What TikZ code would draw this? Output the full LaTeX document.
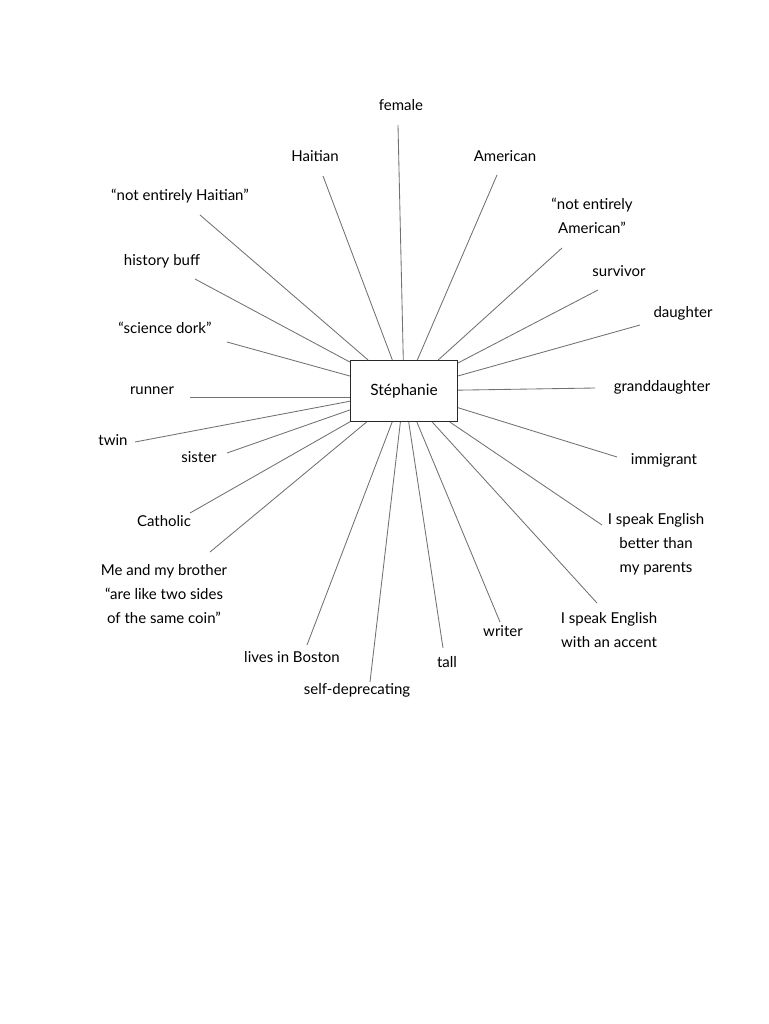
\documentclass[tikz,border=0pt]{standalone}
\usepackage{fontspec}
\setmainfont{Lato}
\usepackage{tikz}
\usetikzlibrary{positioning}
\definecolor{spokegray}{RGB}{112,114,110}
\definecolor{boxdark}{RGB}{40,40,40}

\begin{document}
\begin{tikzpicture}[
    x=1pt, y=-1pt,
    self/.style={rectangle, draw=boxdark, line width=1.1pt, fill=white,
                 minimum width=107pt, minimum height=61pt, font=\fontsize{15.5}{17}\selectfont},
    trait/.style={align=center, inner sep=1pt, font=\fontsize{15}{24}\selectfont},
    spoke/.style={draw=spokegray, line width=0.85pt},
]
    \useasboundingbox (0,0) rectangle (768,1024);

    % centre
    \node[self] (steph) at (404,391) {Stéphanie};

    % labels
    \node[trait] (female)   at (401,105) {female};
    \node[trait] (haitian)  at (315,156) {Haitian};
    \node[trait] (american) at (505,156) {American};
    \node[trait] (notht)    at (180,196) {``not entirely Haitian''};
    \node[trait] (history)  at (162,261) {history buff};
    \node[trait] (dork)     at (165,328) {``science dork''};
    \node[trait] (notam)    at (592,216) {``not entirely\\American''};
    \node[trait] (survivor) at (619,271) {survivor};
    \node[trait] (daughter) at (683,313) {daughter};
    \node[trait] (grand)    at (662,387) {granddaughter};
    \node[trait] (immig)    at (664,460) {immigrant};
    \node[trait] (better)   at (656,544) {I speak English\\better than\\my parents};
    \node[trait] (accent)   at (609,630) {I speak English\\with an accent};
    \node[trait] (writer)   at (503,631) {writer};
    \node[trait] (tall)     at (447,662) {tall};
    \node[trait] (selfdep)  at (357,690) {self-deprecating};
    \node[trait] (boston)   at (292,657) {lives in Boston};
    \node[trait] (brother)  at (164,594) {Me and my brother\\``are like two sides\\of the same coin''};
    \node[trait] (catholic) at (164,521) {Catholic};
    \node[trait] (sister)   at (199,457) {sister};
    \node[trait] (twin)     at (113,440) {twin};
    \node[trait] (runner)   at (152,391) {runner};

    % free ends of the spokes
    \coordinate (e-female)   at (398,125);
    \coordinate (e-haitian)  at (323,176);
    \coordinate (e-american) at (497,175);
    \coordinate (e-notht)    at (200,215);
    \coordinate (e-history)  at (195,279);
    \coordinate (e-dork)     at (227,342);
    \coordinate (e-notam)    at (562,248);
    \coordinate (e-survivor) at (598,290);
    \coordinate (e-daughter) at (640,325);
    \coordinate (e-grand)    at (595,388);
    \coordinate (e-immig)    at (617,457);
    \coordinate (e-better)   at (602,525);
    \coordinate (e-accent)   at (597,603);
    \coordinate (e-writer)   at (500,622);
    \coordinate (e-tall)     at (443,648);
    \coordinate (e-selfdep)  at (370,682);
    \coordinate (e-boston)   at (307,645);
    \coordinate (e-brother)  at (210,552);
    \coordinate (e-catholic) at (190,513);
    \coordinate (e-sister)   at (227,453);
    \coordinate (e-twin)     at (135,442);
    \coordinate (e-runner)   at (190,397);

    \foreach \t in {female,haitian,american,notht,history,dork,notam,survivor,
                    daughter,grand,immig,better,accent,writer,tall,selfdep,
                    boston,brother,catholic,sister,twin}
        \draw[spoke] (steph) -- (e-\t);
    \draw[spoke] (steph.west |- e-runner) -- (e-runner);
\end{tikzpicture}
\end{document}
